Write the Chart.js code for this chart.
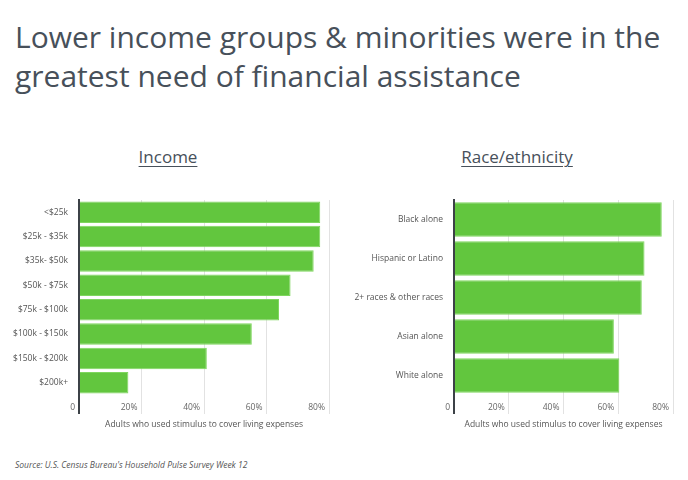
<!DOCTYPE html>
<html>
<head>
<meta charset="utf-8">
<script src="https://cdn.jsdelivr.net/npm/chart.js@4"></script>
<style>
  body { margin: 0; width: 688px; height: 480px; background: #fff; font-family: "Open Sans", sans-serif; position: relative; overflow: hidden; }
  h1 { position: absolute; left: 15px; top: 17px; margin: 0; font-size: 30px; font-weight: 400; line-height: 39px; color: #47505a; }
  .sub { position: absolute; top: 145px; font-size: 17px; color: #47505a; text-decoration: underline; text-underline-offset: 3px; text-decoration-thickness: 1px; transform: translateX(-50%); }
  .box { position: absolute; top: 190px; height: 240px; }
  .src { position: absolute; left: 15px; top: 459px; font-size: 8.5px; font-style: italic; color: #555; }
</style>
</head>
<body>
<h1>Lower income groups &amp; minorities were in the<br>greatest need of financial assistance</h1>
<div class="sub" style="left:168px">Income</div>
<div class="sub" style="left:517px">Race/ethnicity</div>
<div class="box" style="left:0; width:340px"><canvas id="incomeChart"></canvas></div>
<div class="box" style="left:344px; width:340px"><canvas id="raceChart"></canvas></div>
<div class="src">Source: U.S. Census Bureau's Household Pulse Survey Week 12</div>
<script>
const incomeLabels = ['<$25k', '$25k - $35k', '$35k- $50k', '$50k - $75k', '$75k - $100k', '$100k - $150k', '$150k - $200k', '$200k+'];
const incomeValues = [77.2, 77.2, 75.1, 67.7, 64.0, 55.3, 40.9, 15.8];
const raceLabels = ['Black alone', 'Hispanic or Latino', '2+ races & other races', 'Asian alone', 'White alone'];
const raceValues = [75.9, 69.6, 68.6, 58.4, 60.4];
const xTicks = [0, 20, 40, 60, 80];
const axisTitle = 'Adults who used stimulus to cover living expenses';

// Build one horizontal bar chart
function makeChart(id, labels, values, yWidth, barPct) {
    const ctx = document.getElementById(id).getContext('2d');
    return new Chart(ctx, {
        type: 'bar',
        data: {
            labels: labels,
            datasets: [{
                data: values,
                backgroundColor: '#62c63e',
                borderColor: '#7fd65f',
                borderWidth: 1,
                borderSkipped: 'left',
                categoryPercentage: 1,
                barPercentage: barPct
            }]
        },
        options: {
            indexAxis: 'y',
            responsive: true,
            maintainAspectRatio: false,
            animation: false,
            layout: { padding: { top: 10, right: 11, left: 0, bottom: 0 } },
            plugins: { legend: { display: false }, tooltip: { enabled: false } },
            scales: {
                x: {
                    min: 0,
                    max: 80,
                    afterBuildTicks: (scale) => { scale.ticks = xTicks.map(v => ({ value: v })); },
                    afterFit: (scale) => { scale.height = 35; },
                    border: { display: false },
                    grid: {
                        drawOnChartArea: true,
                        tickLength: 19,
                        color: (c) => c.tick && c.tick.value === 0 ? '#3c4147' : '#e2e2e2',
                        lineWidth: (c) => c.tick && c.tick.value === 0 ? 2 : 1
                    },
                    ticks: {
                        align: 'end',
                        padding: -12,
                        labelOffset: -4,
                        color: '#666',
                        font: { family: 'Open Sans', size: 8.5 },
                        callback: (v) => v === 0 ? '0' : v + '%'
                    },
                    title: {
                        display: true,
                        text: axisTitle,
                        color: '#555',
                        font: { family: 'Open Sans', size: 8.5 },
                        padding: { top: 2, bottom: 0 }
                    }
                },
                y: {
                    afterFit: (scale) => { scale.width = yWidth; },
                    border: { display: true, color: '#3c4147', width: 2 },
                    grid: { display: false },
                    ticks: {
                        color: '#555',
                        padding: 3,
                        font: { family: 'Open Sans', size: 8.5 }
                    }
                }
            }
        }
    });
}

window.onload = () => {
    makeChart('incomeChart', incomeLabels, incomeValues, 79, 0.88);
    makeChart('raceChart', raceLabels, raceValues, 110, 0.89);
};
</script>
</body>
</html>
